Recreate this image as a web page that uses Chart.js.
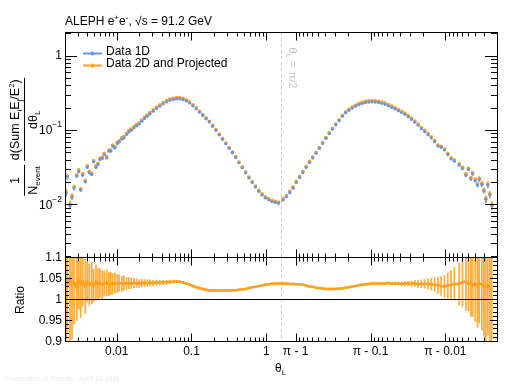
<!DOCTYPE html>
<html>
<head>
<meta charset="utf-8">
<script src="https://cdn.jsdelivr.net/npm/chart.js@4.4.0/dist/chart.umd.min.js"></script>
<style>
  body { margin: 0; background: #fff; }
  #wrap { position: relative; width: 529px; height: 384px; font-family: "Liberation Sans", Arial, sans-serif; color: #000; }
  canvas { position: absolute; left: 0; top: 0; }
  .t { position: absolute; white-space: nowrap; font-size: 12px; line-height: 12px; }
  .s { font-size: 8px; line-height: 0; position: relative; }
  .up { top: -5px; }
  .dn { top: 3px; }
  .rot { position: absolute; white-space: nowrap; line-height: 1; }
  .frac { display: inline-block; vertical-align: middle; text-align: center; margin: 0 2px; }
  .frac > span { display: block; padding: 0 1px; }
  .frac > .num { border-bottom: 1px solid #000; padding-bottom: 2px; }
  .frac > .den { padding-top: 2px; }
</style>
</head>
<body>
<div id="wrap">
  <canvas id="main" width="529" height="384"></canvas>
  <canvas id="ratio" width="529" height="384"></canvas>

  <div class="t" style="left:65px;top:15px">ALEPH e<span class="s up">+</span>e<span class="s up">-</span>, √s = 91.2 GeV</div>
  <div class="t" style="left:106px;top:45px">Data 1D</div>
  <div class="t" style="left:106px;top:57px">Data 2D and Projected</div>

  <div class="rot" style="left:24px;top:137px;font-size:12.5px;transform:translate(-50%,-50%) rotate(-90deg)">
    <span class="frac"><span class="num">1</span><span class="den">N<span class="s dn">event</span></span></span><span class="frac"><span class="num">d(Sum E<span class="s dn">i</span>E<span class="s dn">j</span>/E<span class="s up">2</span>)</span><span class="den">dθ<span class="s dn">L</span></span></span>
  </div>
  <div class="rot" style="left:20px;top:300px;font-size:12px;transform:translate(-50%,-50%) rotate(-90deg)">Ratio</div>
  <div class="rot" style="left:292px;top:68px;font-size:11.5px;color:#c8c8c8;transform:translate(-50%,-50%) rotate(90deg)">θ<span class="s dn">L</span> = π/2</div>
  <div class="t" style="left:275px;top:362px">θ<span class="s dn">L</span></div>
  <div class="t" style="left:5px;top:373px;font-size:7px;color:#ececec">Finalization of Results - April 24 (HB)</div>
</div>

<script>
// left half of the axis: log10(theta_L); right half: log10(pi - theta_L)
var leftLogTheta = [-2.676,-2.659,-2.623,-2.596,-2.569,-2.533,-2.507,-2.480,-2.453,-2.419,
  -2.392,-2.365,-2.333,-2.307,-2.276,-2.249,-2.223,-2.192,-2.165,-2.133,
  -2.103,-2.080,-2.053,-2.023,-1.992,-1.965,-1.929,-1.903,-1.867,-1.836,
  -1.805,-1.769,-1.733,-1.699,-1.663,-1.627,-1.592,-1.556,-1.512,-1.467,
  -1.423,-1.379,-1.333,-1.289,-1.245,-1.201,-1.157,-1.113,-1.069,-1.025,
  -0.981,-0.937,-0.893,-0.849,-0.805,-0.761,-0.717,-0.673,-0.629,-0.585,
  -0.541,-0.497,-0.453,-0.409,-0.365,-0.321,-0.277,-0.233,-0.189,-0.145,
  -0.101,-0.057,-0.013,0.031,0.075,0.119,0.163];
var leftSum2D = [0.0148,0.0240,0.0101,0.0129,0.0172,0.0248,0.0290,0.0162,0.0258,0.0208,
  0.0328,0.0275,0.0261,0.0386,0.0328,0.0356,0.0416,0.0429,0.0486,0.0437,
  0.0538,0.0538,0.0628,0.0596,0.0682,0.0718,0.0787,0.0812,0.0903,0.0979,
  0.103,0.111,0.118,0.125,0.136,0.148,0.159,0.171,0.186,0.202,
  0.217,0.233,0.248,0.261,0.267,0.273,0.273,0.267,0.255,0.238,
  0.218,0.198,0.178,0.161,0.145,0.131,0.115,0.101,0.0878,0.0766,
  0.0667,0.0581,0.0506,0.0437,0.0371,0.0318,0.0272,0.0233,0.0202,0.0176,
  0.0154,0.0138,0.0126,0.0119,0.0113,0.0110,0.0107];
var leftRatio = [1.045,1.030,1.050,1.035,1.040,1.028,1.045,1.035,1.042,1.030,
  1.040,1.034,1.038,1.032,1.040,1.035,1.038,1.034,1.037,1.039,
  1.035,1.037,1.036,1.038,1.037,1.038,1.036,1.038,1.037,1.038,
  1.037,1.038,1.038,1.037,1.038,1.038,1.038,1.039,1.038,1.039,
  1.039,1.040,1.040,1.041,1.041,1.042,1.041,1.039,1.037,1.034,
  1.031,1.028,1.026,1.024,1.022,1.021,1.020,1.020,1.020,1.020,
  1.020,1.020,1.021,1.021,1.022,1.023,1.024,1.026,1.028,1.029,
  1.031,1.032,1.034,1.035,1.036,1.037,1.037];
var leftRatioErr = [0.15,0.11,0.16,0.13,0.10,0.08,0.07,0.08,0.06,0.065,
  0.048,0.05,0.05,0.04,0.042,0.038,0.035,0.034,0.031,0.032,
  0.028,0.027,0.025,0.025,0.022,0.021,0.019,0.018,0.015,0.014,
  0.013,0.012,0.011,0.010,0.0095,0.009,0.0085,0.008,0.0075,0.007,
  0.0065,0.006,0.0055,0.005,0.0045,0.004,0.0035,0.003,0.003,0.003,
  0.003,0.003,0.003,0.003,0.003,0.003,0.003,0.003,0.003,0.003,
  0.002,0.002,0.002,0.002,0.002,0.002,0.002,0.002,0.002,0.002,
  0.002,0.002,0.002,0.002,0.002,0.002,0.002];

var rightLogPiMinusTheta = [0.168,0.124,0.080,0.036,-0.008,-0.052,-0.096,-0.140,-0.184,-0.228,
  -0.272,-0.316,-0.360,-0.404,-0.448,-0.492,-0.536,-0.580,-0.624,-0.668,
  -0.712,-0.756,-0.800,-0.844,-0.888,-0.932,-0.976,-1.020,-1.064,-1.108,
  -1.152,-1.196,-1.240,-1.284,-1.328,-1.372,-1.416,-1.460,-1.504,-1.548,
  -1.592,-1.636,-1.680,-1.724,-1.768,-1.812,-1.856,-1.900,-1.944,-1.988,
  -2.032,-2.076,-2.120,-2.185,-2.229,-2.275,-2.309,-2.341,-2.363,-2.399,
  -2.429,-2.452,-2.488,-2.515,-2.541,-2.568,-2.595,-2.621];
var rightSum2D = [0.0119,0.0131,0.0149,0.0171,0.0203,0.0237,0.0276,0.0323,0.0377,0.0433,
  0.0500,0.0581,0.0675,0.0790,0.0917,0.105,0.120,0.137,0.157,0.175,
  0.189,0.203,0.216,0.226,0.235,0.242,0.246,0.248,0.246,0.243,
  0.237,0.229,0.220,0.209,0.199,0.188,0.178,0.168,0.156,0.144,
  0.132,0.120,0.108,0.0988,0.0897,0.0810,0.0720,0.0628,0.0604,0.0555,
  0.0483,0.0423,0.0395,0.0349,0.0315,0.0256,0.0305,0.0228,0.0266,0.0217,
  0.0188,0.0224,0.0192,0.0156,0.0120,0.0188,0.0138,0.0098];
var rightRatio = [1.037,1.037,1.036,1.036,1.035,1.035,1.034,1.032,1.030,1.029,
  1.027,1.026,1.025,1.024,1.024,1.024,1.024,1.025,1.025,1.027,
  1.028,1.030,1.031,1.033,1.034,1.035,1.036,1.037,1.037,1.037,
  1.037,1.037,1.038,1.037,1.037,1.037,1.036,1.037,1.037,1.037,
  1.037,1.036,1.036,1.036,1.036,1.035,1.034,1.033,1.031,1.030,
  1.032,1.034,1.036,1.036,1.040,1.042,1.036,1.038,1.033,1.036,
  1.032,1.037,1.035,1.030,1.028,1.033,1.025,1.022];
var rightRatioErr = [0.002,0.002,0.002,0.002,0.002,0.002,0.002,0.002,0.002,0.002,
  0.002,0.002,0.002,0.002,0.002,0.002,0.002,0.002,0.002,0.002,
  0.002,0.002,0.002,0.002,0.002,0.002,0.002,0.002,0.002,0.002,
  0.0025,0.003,0.003,0.0035,0.004,0.0045,0.005,0.0055,0.006,0.007,
  0.008,0.009,0.010,0.011,0.013,0.015,0.017,0.020,0.023,0.027,
  0.031,0.035,0.040,0.050,0.058,0.070,0.065,0.080,0.075,0.090,
  0.10,0.095,0.11,0.12,0.15,0.12,0.14,0.17];

// tick labels
var xTickOffsets = [0.01, 0.1, 1];
var xTickLabelsLeft = ['0.01', '0.1', '1'];
var xTickLabelsRight = ['π - 0.01', 'π - 0.1', 'π - 1'];
var yTickExps = [0, -1, -2];
var ratioTicks = [0.9, 0.95, 1, 1.05, 1.1];
var ratioTickLabels = ['0.9', '0.95', '1', '1.05', '1.1'];

var BLUE = 'rgb(100,149,237)';
var ORANGE = 'rgb(255,160,32)';
var ORANGE_ERR = 'rgba(255,160,32,0.85)';
var FONT = '12px "Liberation Sans", Arial, sans-serif';
var LHP = Math.log10(Math.PI / 2);       // position of pi/2 on the folded log axis
var X_MIN = -2.69, X_MAX = 2 * LHP + 2.69;

// fold: theta < pi/2 -> log10(theta), theta > pi/2 -> mirrored log10(pi - theta)
function fold(logs, right) { return logs.map(function (l) { return right ? 2 * LHP - l : l; }); }
var xs = fold(leftLogTheta, false).concat(fold(rightLogPiMinusTheta, true));
var v2D = leftSum2D.concat(rightSum2D);
var ratio = leftRatio.concat(rightRatio);
var ratioErr = leftRatioErr.concat(rightRatioErr);

var pts2D = xs.map(function (x, i) { return { x: x, y: v2D[i], e: v2D[i] * ratioErr[i] / Math.SQRT2 }; });
var pts1D = xs.map(function (x, i) { var v = v2D[i] / ratio[i]; return { x: x, y: v, e: v * ratioErr[i] / Math.SQRT2 }; });
var ptsRatio = xs.map(function (x, i) { return { x: x, y: ratio[i], e: ratioErr[i] }; });

// tick positions on the folded axis
var xMajor = [], xMinor = [];
xTickOffsets.forEach(function (d) { xMajor.push(Math.log10(d)); });
xTickOffsets.slice().reverse().forEach(function (d) { xMajor.push(2 * LHP - Math.log10(d)); });
var xMajorLabels = xTickLabelsLeft.concat(xTickLabelsRight.slice().reverse());
for (var n = -3; n <= -1; n++) {
  for (var k = 2; k <= 9; k++) {
    var l = Math.log10(k * Math.pow(10, n));
    if (l >= X_MIN) xMinor.push(l);
    if (2 * LHP - l <= X_MAX) xMinor.push(2 * LHP - l);
  }
}

function px(v) { return Math.round(v) + 0.5; }

function drawXTicks(ctx, xs_, yLine, dir) {
  ctx.beginPath();
  xMajor.forEach(function (t) { var X = px(xs_.getPixelForValue(t)); ctx.moveTo(X, yLine); ctx.lineTo(X, yLine + dir * 8); });
  xMinor.forEach(function (t) { var X = px(xs_.getPixelForValue(t)); ctx.moveTo(X, yLine); ctx.lineTo(X, yLine + dir * 4); });
  ctx.stroke();
}

function drawPiHalf(chart) {
  var ctx = chart.ctx, a = chart.chartArea;
  var X = px(chart.scales.x.getPixelForValue(LHP));
  ctx.save();
  ctx.strokeStyle = '#c8c8c8';
  ctx.lineWidth = 1;
  ctx.setLineDash([3, 3]);
  ctx.beginPath(); ctx.moveTo(X, a.top); ctx.lineTo(X, a.bottom); ctx.stroke();
  ctx.restore();
}

function drawErrors(chart, colors, width) {
  var ctx = chart.ctx, a = chart.chartArea, x = chart.scales.x, y = chart.scales.y;
  ctx.save();
  ctx.beginPath(); ctx.rect(a.left, a.top, a.right - a.left, a.bottom - a.top); ctx.clip();
  chart.data.datasets.forEach(function (ds, di) {
    ctx.strokeStyle = colors[di];
    ctx.lineWidth = width;
    ctx.beginPath();
    ds.data.forEach(function (p) {
      var X = x.getPixelForValue(p.x);
      ctx.moveTo(X, y.getPixelForValue(p.y - p.e));
      ctx.lineTo(X, y.getPixelForValue(p.y + p.e));
    });
    ctx.stroke();
  });
  ctx.restore();
}

var topPanel = {
  id: 'topPanel',
  beforeDatasetsDraw: function (chart) {
    drawPiHalf(chart);
    drawErrors(chart, [BLUE, ORANGE], 1.6);
  },
  afterDraw: function (chart) {
    var ctx = chart.ctx, a = chart.chartArea, x = chart.scales.x, y = chart.scales.y;
    ctx.save();
    ctx.strokeStyle = '#000';
    ctx.lineWidth = 1;
    ctx.strokeRect(px(a.left), px(a.top), Math.round(a.right - a.left), Math.round(a.bottom - a.top));
    drawXTicks(ctx, x, px(a.top), 1);
    drawXTicks(ctx, x, px(a.bottom), -1);
    // y ticks, both sides
    ctx.beginPath();
    for (var n = -3; n <= 0; n++) {
      for (var k = 1; k <= 9; k++) {
        var v = k * Math.pow(10, n);
        if (v < y.min || v > y.max) continue;
        var Y = px(y.getPixelForValue(v)), len = k === 1 ? 12 : 6;
        ctx.moveTo(a.left, Y); ctx.lineTo(a.left + len, Y);
        ctx.moveTo(a.right, Y); ctx.lineTo(a.right - len, Y);
      }
    }
    ctx.stroke();
    // y labels
    ctx.fillStyle = '#000';
    ctx.textAlign = 'right';
    ctx.textBaseline = 'middle';
    yTickExps.forEach(function (e) {
      var Y = y.getPixelForValue(Math.pow(10, e));
      if (e === 0) { ctx.font = FONT; ctx.fillText('1', 62, Y); return; }
      ctx.font = '8.5px "Liberation Sans", Arial, sans-serif';
      var sup = '\u2212' + Math.abs(e);
      var w = ctx.measureText(sup).width;
      ctx.fillText(sup, 62, Y - 5);
      ctx.font = FONT;
      ctx.fillText('10', 62 - w, Y + 1);
    });
    // legend markers
    [[BLUE, 53.5], [ORANGE, 65.5]].forEach(function (m) {
      ctx.strokeStyle = m[0]; ctx.fillStyle = m[0]; ctx.lineWidth = 2;
      ctx.beginPath(); ctx.moveTo(83, m[1]); ctx.lineTo(102, m[1]); ctx.stroke();
      ctx.beginPath(); ctx.arc(92.5, m[1], 2, 0, Math.PI * 2); ctx.fill();
    });
    ctx.restore();
  }
};

var ratioPanel = {
  id: 'ratioPanel',
  beforeDatasetsDraw: function (chart) {
    drawPiHalf(chart);
    drawErrors(chart, [ORANGE_ERR], 1.8);
  },
  afterDraw: function (chart) {
    var ctx = chart.ctx, a = chart.chartArea, x = chart.scales.x, y = chart.scales.y;
    ctx.save();
    ctx.strokeStyle = '#000';
    ctx.lineWidth = 1;
    ctx.strokeRect(px(a.left), px(a.top), Math.round(a.right - a.left), Math.round(a.bottom - a.top));
    var Y1 = px(y.getPixelForValue(1));
    ctx.beginPath(); ctx.moveTo(a.left, Y1); ctx.lineTo(a.right, Y1); ctx.stroke();
    drawXTicks(ctx, x, px(a.top), 1);
    drawXTicks(ctx, x, px(a.bottom), -1);
    ctx.beginPath();
    for (var i = 0; i <= 20; i++) {
      var Y = px(y.getPixelForValue(0.9 + i * 0.01)), len = i % 5 === 0 ? 7 : 4;
      ctx.moveTo(a.left, Y); ctx.lineTo(a.left + len, Y);
      ctx.moveTo(a.right, Y); ctx.lineTo(a.right - len, Y);
    }
    ctx.stroke();
    ctx.fillStyle = '#000';
    ctx.font = FONT;
    ctx.textAlign = 'right';
    ctx.textBaseline = 'middle';
    ratioTicks.forEach(function (v, i) { ctx.fillText(ratioTickLabels[i], 62, y.getPixelForValue(v) + 1); });
    ctx.textAlign = 'center';
    xMajor.forEach(function (t, i) { ctx.fillText(xMajorLabels[i], x.getPixelForValue(t), 352); });
    ctx.restore();
  }
};

var common = {
  responsive: false,
  animation: false,
  events: [],
  plugins: { legend: { display: false }, tooltip: { enabled: false } }
};

new Chart(document.getElementById('main'), {
  type: 'scatter',
  data: {
    datasets: [
      { label: 'Data 1D', data: pts1D, pointBackgroundColor: BLUE, pointBorderWidth: 0, pointRadius: 1.6, borderColor: BLUE },
      { label: 'Data 2D and Projected', data: pts2D, pointBackgroundColor: ORANGE, pointBorderWidth: 0, pointRadius: 1.9, borderColor: ORANGE }
    ]
  },
  options: Object.assign({}, common, {
    layout: { padding: { left: 65, right: 32, top: 32, bottom: 127 } },
    scales: {
      x: { type: 'linear', min: X_MIN, max: X_MAX, display: false },
      y: { type: 'logarithmic', min: 0.00196, max: 2.08, display: false }
    }
  }),
  plugins: [topPanel]
});

new Chart(document.getElementById('ratio'), {
  type: 'scatter',
  data: {
    datasets: [
      { label: 'Ratio', data: ptsRatio, showLine: true, borderColor: ORANGE, borderWidth: 2.5,
        pointBackgroundColor: ORANGE, pointBorderWidth: 0, pointRadius: 1.3 }
    ]
  },
  options: Object.assign({}, common, {
    layout: { padding: { left: 65, right: 32, top: 257, bottom: 43 } },
    scales: {
      x: { type: 'linear', min: X_MIN, max: X_MAX, display: false },
      y: { type: 'linear', min: 0.9, max: 1.1, display: false }
    }
  }),
  plugins: [ratioPanel]
});
</script>
</body>
</html>
